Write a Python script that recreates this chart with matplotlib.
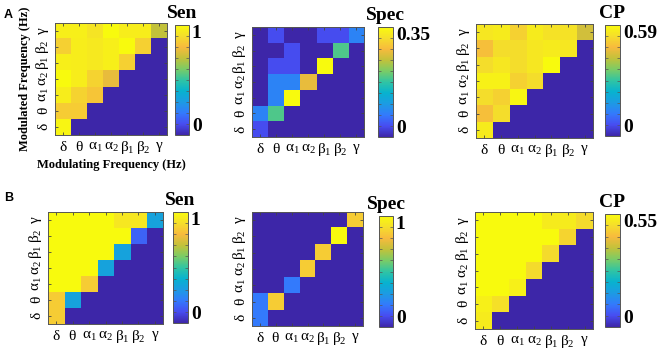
import matplotlib
matplotlib.use("Agg")
import matplotlib.pyplot as plt
import numpy as np
from matplotlib.colors import LinearSegmentedColormap
from matplotlib.ticker import MultipleLocator

# frequency bands (rows: modulated, bottom to top; cols: modulating)
bands = [r"$\mathrm{δ}$", r"$\mathrm{θ}$", r"$\mathrm{α_1}$", r"$\mathrm{α_2}$",
         r"$\mathrm{β_1}$", r"$\mathrm{β_2}$", r"$\mathrm{γ}$"]

sen_a = [
    [0.98, 0, 0, 0, 0, 0, 0],
    [0.85, 0.85, 0, 0, 0, 0, 0],
    [0.95, 0.87, 0.83, 0, 0, 0, 0],
    [1.00, 0.95, 0.87, 0.77, 0, 0, 0],
    [0.96, 0.95, 0.94, 0.96, 0.86, 0, 0],
    [0.86, 0.95, 0.94, 0.96, 1.00, 0.86, 0],
    [0.96, 0.96, 0.92, 1.00, 0.95, 0.95, 0.70],
]
spec_a = [
    [0.035, 0, 0, 0, 0, 0, 0],
    [0.08, 0.19, 0, 0, 0, 0, 0],
    [0, 0.08, 0.35, 0, 0, 0, 0],
    [0, 0.08, 0.08, 0.27, 0, 0, 0],
    [0, 0.035, 0.035, 0, 0.35, 0, 0],
    [0, 0, 0.035, 0, 0, 0.19, 0],
    [0, 0.035, 0, 0, 0.035, 0.035, 0.08],
]
cp_a = [
    [0.56, 0, 0, 0, 0, 0, 0],
    [0.48, 0.53, 0, 0, 0, 0, 0],
    [0.53, 0.51, 0.58, 0, 0, 0, 0],
    [0.57, 0.57, 0.51, 0.53, 0, 0, 0],
    [0.53, 0.55, 0.53, 0.55, 0.59, 0, 0],
    [0.48, 0.53, 0.53, 0.55, 0.56, 0.55, 0],
    [0.55, 0.56, 0.51, 0.56, 0.54, 0.54, 0.43],
]
sen_b = [
    [0.85, 0, 0, 0, 0, 0, 0],
    [0.85, 0.33, 0, 0, 0, 0, 0],
    [1, 1, 0.85, 0, 0, 0, 0],
    [1, 1, 1, 0.33, 0, 0, 0],
    [1, 1, 1, 1, 0.33, 0, 0],
    [1, 1, 1, 1, 1, 0.15, 0],
    [1, 1, 1, 1, 0.93, 0.93, 0.33],
]
spec_b = [
    [0.2, 0, 0, 0, 0, 0, 0],
    [0.2, 0.85, 0, 0, 0, 0, 0],
    [0, 0, 0.2, 0, 0, 0, 0],
    [0, 0, 0, 0.85, 0, 0, 0],
    [0, 0, 0, 0, 0.85, 0, 0],
    [0, 0, 0, 0, 0, 1.0, 0],
    [0, 0, 0, 0, 0, 0, 0.85],
]
cp_b = [
    [0.52, 0, 0, 0, 0, 0, 0],
    [0.53, 0.50, 0, 0, 0, 0, 0],
    [0.55, 0.55, 0.53, 0, 0, 0, 0],
    [0.55, 0.55, 0.55, 0.49, 0, 0, 0],
    [0.55, 0.55, 0.55, 0.55, 0.49, 0, 0],
    [0.55, 0.55, 0.55, 0.55, 0.55, 0.48, 0],
    [0.55, 0.55, 0.55, 0.55, 0.52, 0.52, 0.49],
]

titles = ["Sen", "Spec", "CP", "Sen", "Spec", "CP"]
vmaxs = [1, 0.35, 0.59, 1, 1, 0.55]
mats = [sen_a, spec_a, cp_a, sen_b, spec_b, cp_b]

# approximate MATLAB parula
parula = LinearSegmentedColormap.from_list("parula", [
    (0.00, (0.2422, 0.1504, 0.6603)),
    (0.10, (0.2790, 0.3020, 0.9450)),
    (0.20, (0.2000, 0.4800, 0.9900)),
    (0.30, (0.1100, 0.6100, 0.8900)),
    (0.40, (0.0300, 0.7000, 0.8100)),
    (0.50, (0.1900, 0.7700, 0.6400)),
    (0.60, (0.4800, 0.8000, 0.4000)),
    (0.70, (0.7600, 0.7600, 0.2300)),
    (0.80, (0.9700, 0.7300, 0.2400)),
    (0.90, (0.9600, 0.8700, 0.1700)),
    (1.00, (0.9763, 0.9831, 0.0538)),
])

plt.rcParams["mathtext.fontset"] = "custom"
plt.rcParams["mathtext.rm"] = "Liberation Serif"
plt.rcParams["mathtext.it"] = "Liberation Serif:italic"
plt.rcParams["mathtext.bf"] = "Liberation Serif:bold"

W, H = 661, 351
fig = plt.figure(figsize=(W / 100, H / 100), dpi=100)


def box(x0, y0, x1, y1):
    # pixel box (top-left origin) -> figure fraction
    return [x0 / W, 1 - y1 / H, (x1 - x0) / W, (y1 - y0) / H]


ax_boxes = [(55, 23, 167, 135), (252, 27, 364, 137), (476, 24, 593, 138),
            (48, 212, 163, 324), (252, 212, 363, 326), (475, 212, 593, 329)]
cb_boxes = [(175, 25, 189, 135), (378, 27, 393, 137), (605, 25, 620, 136),
            (173, 212, 188, 323), (379, 216, 393, 327), (605, 214, 620, 327)]

serif = "Liberation Serif"
for i in range(6):
    ax = fig.add_axes(box(*ax_boxes[i]))
    data = np.array(mats[i])
    im = ax.imshow(data, cmap=parula, vmin=0, vmax=vmaxs[i], origin="lower",
                   aspect="auto", interpolation="nearest")
    ax.set_xticks(range(7))
    ax.set_yticks(range(7))
    ax.set_xticklabels(bands, fontsize=11)
    ax.set_yticklabels(bands, fontsize=11, rotation=90, va="center")
    ax.tick_params(direction="in", length=2, width=0.6, color="#444444",
                   top=True, right=True, pad=3)
    for s in ax.spines.values():
        s.set_color("#555555")
        s.set_linewidth(0.7)

    cax = fig.add_axes(box(*cb_boxes[i]))
    cb = fig.colorbar(im, cax=cax, ticks=[0, vmaxs[i]])
    cb.outline.set_edgecolor("#555555")
    cb.outline.set_linewidth(0.7)
    cax.set_yticklabels(["0", f"{vmaxs[i]:g}"], fontsize=14, fontweight="bold",
                        family=serif)
    labs = cax.get_yticklabels()
    labs[0].set_va("bottom")
    labs[1].set_va("top")
    cax.tick_params(which="major", length=0, pad=2)
    cax.yaxis.set_minor_locator(MultipleLocator(vmaxs[i] / 10))
    cax.tick_params(which="minor", direction="in", length=2, width=0.5,
                    color="#555555", left=True, right=True)
    cax.set_title(titles[i], fontsize=14, fontweight="bold", family=serif, pad=5)

    if i == 0:
        ax.set_xlabel("Modulating Frequency (Hz)", fontsize=9, fontweight="bold",
                      family=serif, labelpad=2)
        ax.set_ylabel("Modulated Frequency (Hz)", fontsize=9, fontweight="bold",
                      family=serif, labelpad=2)

fig.text(4 / W, 1 - 15 / H, "A", fontsize=9, fontweight="bold",
         family="Liberation Sans", va="center")
fig.text(4 / W, 1 - 198 / H, "B", fontsize=9, fontweight="bold",
         family="Liberation Sans", va="center")

fig.savefig("out.png", dpi=100)
